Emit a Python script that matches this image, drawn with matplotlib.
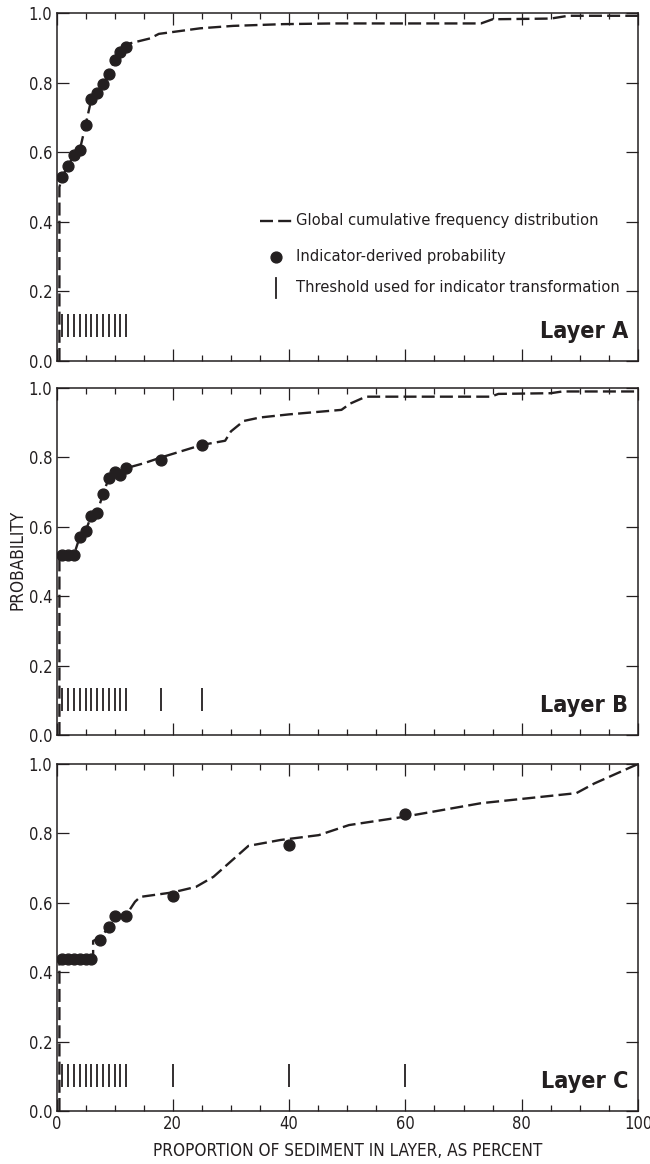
import matplotlib
matplotlib.use("Agg")
import matplotlib.pyplot as plt
from matplotlib.ticker import MultipleLocator
from matplotlib import font_manager

# pick a condensed sans if one is installed, else an Arial-like sans
_cond = [f for f in font_manager.fontManager.ttflist
         if ('Narrow' in f.name or 'Condensed' in f.name or
             str(f.stretch) in ('condensed', 'semi-condensed', '300', '400', '500'))]
if _cond:
    plt.rcParams['font.family'] = [_cond[0].name, 'DejaVu Sans']
    plt.rcParams['font.stretch'] = _cond[0].stretch
    SCALE = 1.08
else:
    plt.rcParams['font.family'] = ['Liberation Sans', 'DejaVu Sans']
    SCALE = 1.0

INK = '#231f20'

# ---------------- data ----------------
# Layer A
a_cdf_x = [0.5, 0.5, 1, 2, 3, 4, 5, 6, 7, 8, 9, 10, 11, 12, 12.7, 16.1, 17.6, 24.7, 30.4, 39, 47.7, 73, 75, 85, 88, 100]
a_cdf_y = [0.0, 0.50, 0.53, 0.561, 0.591, 0.606, 0.678, 0.753, 0.771, 0.795, 0.825, 0.865, 0.889, 0.903, 0.913, 0.927, 0.940, 0.956, 0.963, 0.968, 0.970, 0.970, 0.982, 0.984, 0.992, 0.992]
a_pts_x = [1, 2, 3, 4, 5, 6, 7, 8, 9, 10, 11, 12]
a_pts_y = [0.53, 0.561, 0.591, 0.606, 0.678, 0.753, 0.771, 0.795, 0.825, 0.865, 0.889, 0.903]
a_thr = [1, 2, 3, 4, 5, 6, 7, 8, 9, 10, 11, 12]

# Layer B
b_cdf_x = [0.5, 0.5, 3, 4, 5, 6, 7, 8, 9, 10, 11, 12, 15, 18, 25, 29, 30, 32.2, 35, 40, 49, 50.5, 53.2, 74.7, 76, 85, 87, 100]
b_cdf_y = [0.0, 0.519, 0.519, 0.571, 0.588, 0.632, 0.641, 0.695, 0.740, 0.759, 0.749, 0.769, 0.783, 0.80, 0.836, 0.848, 0.875, 0.905, 0.915, 0.924, 0.937, 0.955, 0.975, 0.975, 0.983, 0.985, 0.99, 0.99]
b_pts_x = [1, 2, 3, 4, 5, 6, 7, 8, 9, 10, 11, 12, 18, 25]
b_pts_y = [0.519, 0.519, 0.519, 0.571, 0.588, 0.632, 0.641, 0.695, 0.740, 0.759, 0.749, 0.769, 0.792, 0.836]
b_thr = [1, 2, 3, 4, 5, 6, 7, 8, 9, 10, 11, 12, 18, 25]

# Layer C
c_cdf_x = [0.5, 0.5, 6.3, 6.3, 7.5, 9, 10, 12, 13.5, 14.4, 20, 24, 27, 33, 38.5, 45.1, 50.3, 59.8, 73, 89.4, 92.5, 100]
c_cdf_y = [0.0, 0.437, 0.437, 0.49, 0.50, 0.529, 0.555, 0.565, 0.603, 0.617, 0.63, 0.646, 0.675, 0.764, 0.781, 0.795, 0.824, 0.848, 0.887, 0.916, 0.944, 1.0]
c_pts_x = [1, 2, 3, 4, 5, 6, 7.5, 9, 10, 12, 20, 40, 60]
c_pts_y = [0.437, 0.437, 0.437, 0.437, 0.437, 0.437, 0.493, 0.529, 0.563, 0.563, 0.62, 0.767, 0.855]
c_thr = [1, 2, 3, 4, 5, 6, 7, 8, 9, 10, 11, 12, 20, 40, 60]

layers = ['Layer A', 'Layer B', 'Layer C']
x_ticks = [0, 20, 40, 60, 80, 100]
y_ticks = [0.0, 0.2, 0.4, 0.6, 0.8, 1.0]

panels = [
    (a_cdf_x, a_cdf_y, a_pts_x, a_pts_y, a_thr),
    (b_cdf_x, b_cdf_y, b_pts_x, b_pts_y, b_thr),
    (c_cdf_x, c_cdf_y, c_pts_x, c_pts_y, c_thr),
]

# ---------------- figure ----------------
fig = plt.figure(figsize=(6.5, 11.64), dpi=100)
W = 650.0
H = 1164.0
left_px, right_px = 56.5, 638.0
tops = [13, 388, 764]
bots = [361, 735, 1111]

axes = []
for i, (cx, cy, px, py, thr) in enumerate(panels):
    ax = fig.add_axes([left_px / W, 1 - bots[i] / H, (right_px - left_px) / W, (bots[i] - tops[i]) / H])
    axes.append(ax)
    ax.set_xlim(0, 100)
    ax.set_ylim(0, 1)
    ax.plot(cx, cy, color=INK, lw=1.7, dashes=(5.5, 2.2), zorder=3, solid_capstyle='butt')
    ax.plot(px, py, 'o', color=INK, ms=7.8, zorder=4, mec=INK)
    ax.vlines(thr, 0.07, 0.135, color=INK, lw=1.3, zorder=3)

    ax.set_xticks(x_ticks)
    ax.xaxis.set_minor_locator(MultipleLocator(5))
    ax.set_yticks(y_ticks)
    ax.set_yticklabels(['%.1f' % v for v in y_ticks])
    ax.tick_params(axis='both', which='major', direction='in', length=8.5, width=0.9,
                   top=True, right=True, color=INK, labelsize=11 * SCALE, labelcolor=INK, pad=3)
    ax.tick_params(axis='x', which='minor', direction='in', length=4.5, width=0.9,
                   top=True, bottom=True, color=INK)
    if i < 2:
        ax.tick_params(axis='x', which='both', labelbottom=False)
    for s in ax.spines.values():
        s.set_linewidth(1.1)
        s.set_color(INK)
    ax.text(0.983, 0.085, layers[i], transform=ax.transAxes, ha='right', va='center',
            fontsize=15.5 * SCALE, fontweight='bold', color=INK)

axes[2].set_xlabel('PROPORTION OF SEDIMENT IN LAYER, AS PERCENT', fontsize=11.4 * SCALE, color=INK, labelpad=6)
fig.text(18 / W, 1 - 560 / H, 'PROBABILITY', rotation=90, ha='center', va='center',
         fontsize=11.4 * SCALE, color=INK)

# legend in Layer A (drawn manually)
axA = axes[0]
lx0, lx1 = (260 - left_px) / (right_px - left_px), (293 - left_px) / (right_px - left_px)
lm = (276 - left_px) / (right_px - left_px)
tx = (296 - left_px) / (right_px - left_px)
rows = [(361 - 220.7) / 348, (361 - 256.7) / 348, (361 - 288) / 348]
axA.plot([lx0, lx1], [rows[0], rows[0]], transform=axA.transAxes, color=INK, lw=1.7, dashes=(5.5, 2.2))
axA.plot([lm], [rows[1]], 'o', transform=axA.transAxes, color=INK, ms=7.8)
axA.plot([lm, lm], [rows[2] - 0.03, rows[2] + 0.03], transform=axA.transAxes, color=INK, lw=1.3)
labels = ['Global cumulative frequency distribution', 'Indicator-derived probability',
          'Threshold used for indicator transformation']
for r, t in zip(rows, labels):
    axA.text(tx, r, t, transform=axA.transAxes, ha='left', va='center', fontsize=10.9 * SCALE, color=INK)

fig.savefig('out.png', dpi=100)
